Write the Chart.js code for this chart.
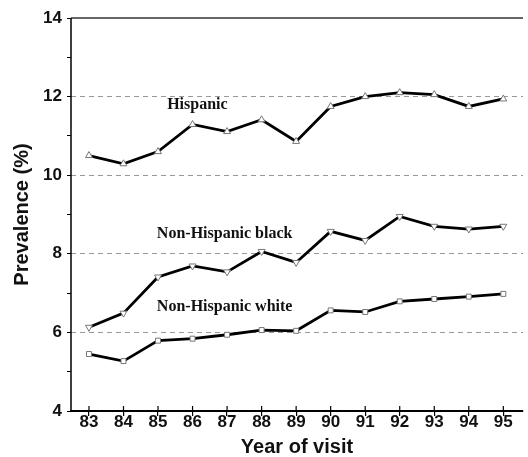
<!DOCTYPE html>
<html>
<head>
<meta charset="utf-8">
<script src="https://cdn.jsdelivr.net/npm/chart.js@4"></script>
<style>
  html, body { margin: 0; padding: 0; background: #fff; overflow: hidden; }
  #wrap { width: 528px; height: 457px; position: relative; }
</style>
</head>
<body>
<div id="wrap"><canvas id="c" width="528" height="457"></canvas></div>
<script>
const years = [83, 84, 85, 86, 87, 88, 89, 90, 91, 92, 93, 94, 95];
const hispanic = [10.5, 10.29, 10.6, 11.29, 11.11, 11.41, 10.86, 11.75, 12.0, 12.1, 12.05, 11.75, 11.94];
const nhBlack = [6.13, 6.49, 7.41, 7.69, 7.54, 8.06, 7.78, 8.57, 8.34, 8.95, 8.70, 8.63, 8.70];
const nhWhite = [5.45, 5.27, 5.79, 5.84, 5.94, 6.06, 6.04, 6.56, 6.52, 6.79, 6.85, 6.91, 6.98];
const yTicks = [4, 5, 6, 7, 8, 9, 10, 11, 12, 13, 14];
const gridValues = [6, 8, 10, 12];
const seriesLabels = ["Hispanic", "Non-Hispanic black", "Non-Hispanic white"];
// label anchors in data coordinates [x, y]
const labelAnchors = [[86.14, 11.80], [86.93, 8.5], [86.93, 6.65]];

const toPts = (arr) => years.map((y, i) => ({ x: y, y: arr[i] }));

const decor = {
  id: 'decor',
  afterDraw(chart) {
    const { ctx, chartArea: a, scales } = chart;
    ctx.save();
    // top border
    ctx.strokeStyle = '#333';
    ctx.lineWidth = 1.5;
    ctx.beginPath();
    ctx.moveTo(a.left, a.top);
    ctx.lineTo(a.right, a.top);
    ctx.stroke();
    // left axis line (solid)
    ctx.strokeStyle = '#000';
    ctx.lineWidth = 1.5;
    ctx.beginPath();
    ctx.moveTo(a.left, a.top);
    ctx.lineTo(a.left, a.bottom);
    ctx.stroke();
    // x ticks above axis
    ctx.lineWidth = 1.2;
    years.forEach(v => {
      const px = scales.x.getPixelForValue(v);
      ctx.beginPath();
      ctx.moveTo(px, a.bottom - 5);
      ctx.lineTo(px, a.bottom);
      ctx.stroke();
    });
    // series labels
    ctx.fillStyle = '#111';
    ctx.font = 'bold 16px "Liberation Serif", "Times New Roman", serif';
    ctx.textAlign = 'center';
    ctx.textBaseline = 'middle';
    seriesLabels.forEach((t, i) => {
      const [vx, vy] = labelAnchors[i];
      ctx.fillText(t, scales.x.getPixelForValue(vx), scales.y.getPixelForValue(vy));
    });
    ctx.restore();
  }
};

const common = {
  borderColor: '#000',
  borderWidth: 2.8,
  pointBackgroundColor: '#fff',
  pointBorderColor: '#777',
  pointBorderWidth: 1,
  tension: 0,
  fill: false
};

new Chart(document.getElementById('c'), {
  type: 'line',
  data: {
    datasets: [
      Object.assign({ label: seriesLabels[0], data: toPts(hispanic), pointStyle: 'triangle', pointRadius: 4 }, common),
      Object.assign({ label: seriesLabels[1], data: toPts(nhBlack), pointStyle: 'triangle', pointRotation: 180, pointRadius: 4 }, common),
      Object.assign({ label: seriesLabels[2], data: toPts(nhWhite), pointStyle: 'rect', pointRadius: 3.5 }, common)
    ]
  },
  options: {
    responsive: false,
    animation: false,
    layout: { padding: { top: 18, right: 0, left: 0, bottom: 0 } },
    plugins: { legend: { display: false }, tooltip: { enabled: false } },
    scales: {
      x: {
        type: 'linear',
        min: 82.48,
        max: 95.57,
        afterBuildTicks: (s) => { s.ticks = years.map(v => ({ value: v })); },
        afterFit: (s) => { s.height = 46; },
        grid: { drawOnChartArea: false, color: '#000', tickLength: 5, lineWidth: 1.2 },
        border: { display: true, color: '#000', width: 2 },
        ticks: {
          color: '#111',
          padding: -4,
          maxRotation: 0,
          font: { family: '"Liberation Sans", Arial, sans-serif', size: 17, weight: 'bold' },
          callback: (v) => String(v)
        },
        title: {
          display: true,
          text: 'Year of visit',
          color: '#111',
          font: { family: '"Liberation Sans", Arial, sans-serif', size: 20, weight: 'bold', lineHeight: 1 },
          padding: { top: 1, bottom: 0 }
        }
      },
      y: {
        type: 'linear',
        min: 4,
        max: 14,
        afterBuildTicks: (s) => { s.ticks = yTicks.map(v => ({ value: v })); },
        afterFit: (s) => { s.width = 71; },
        grid: {
          color: (c) => (c.tick && gridValues.includes(c.tick.value)) ? '#999' : 'rgba(0,0,0,0)',
          tickColor: '#000',
          tickLength: 4,
          lineWidth: 1
        },
        border: { display: false, dash: [5, 4] },
        ticks: {
          color: '#111',
          padding: 5,
          font: { family: '"Liberation Sans", Arial, sans-serif', size: 17, weight: 'bold' },
          callback: (v) => (v % 2 === 0 ? String(v) : '')
        },
        title: {
          display: true,
          text: 'Prevalence (%)',
          color: '#111',
          font: { family: '"Liberation Sans", Arial, sans-serif', size: 20, weight: 'bold', lineHeight: 1.2 },
          padding: { top: 10, bottom: 0 }
        }
      }
    }
  },
  plugins: [decor]
});
</script>
</body>
</html>
